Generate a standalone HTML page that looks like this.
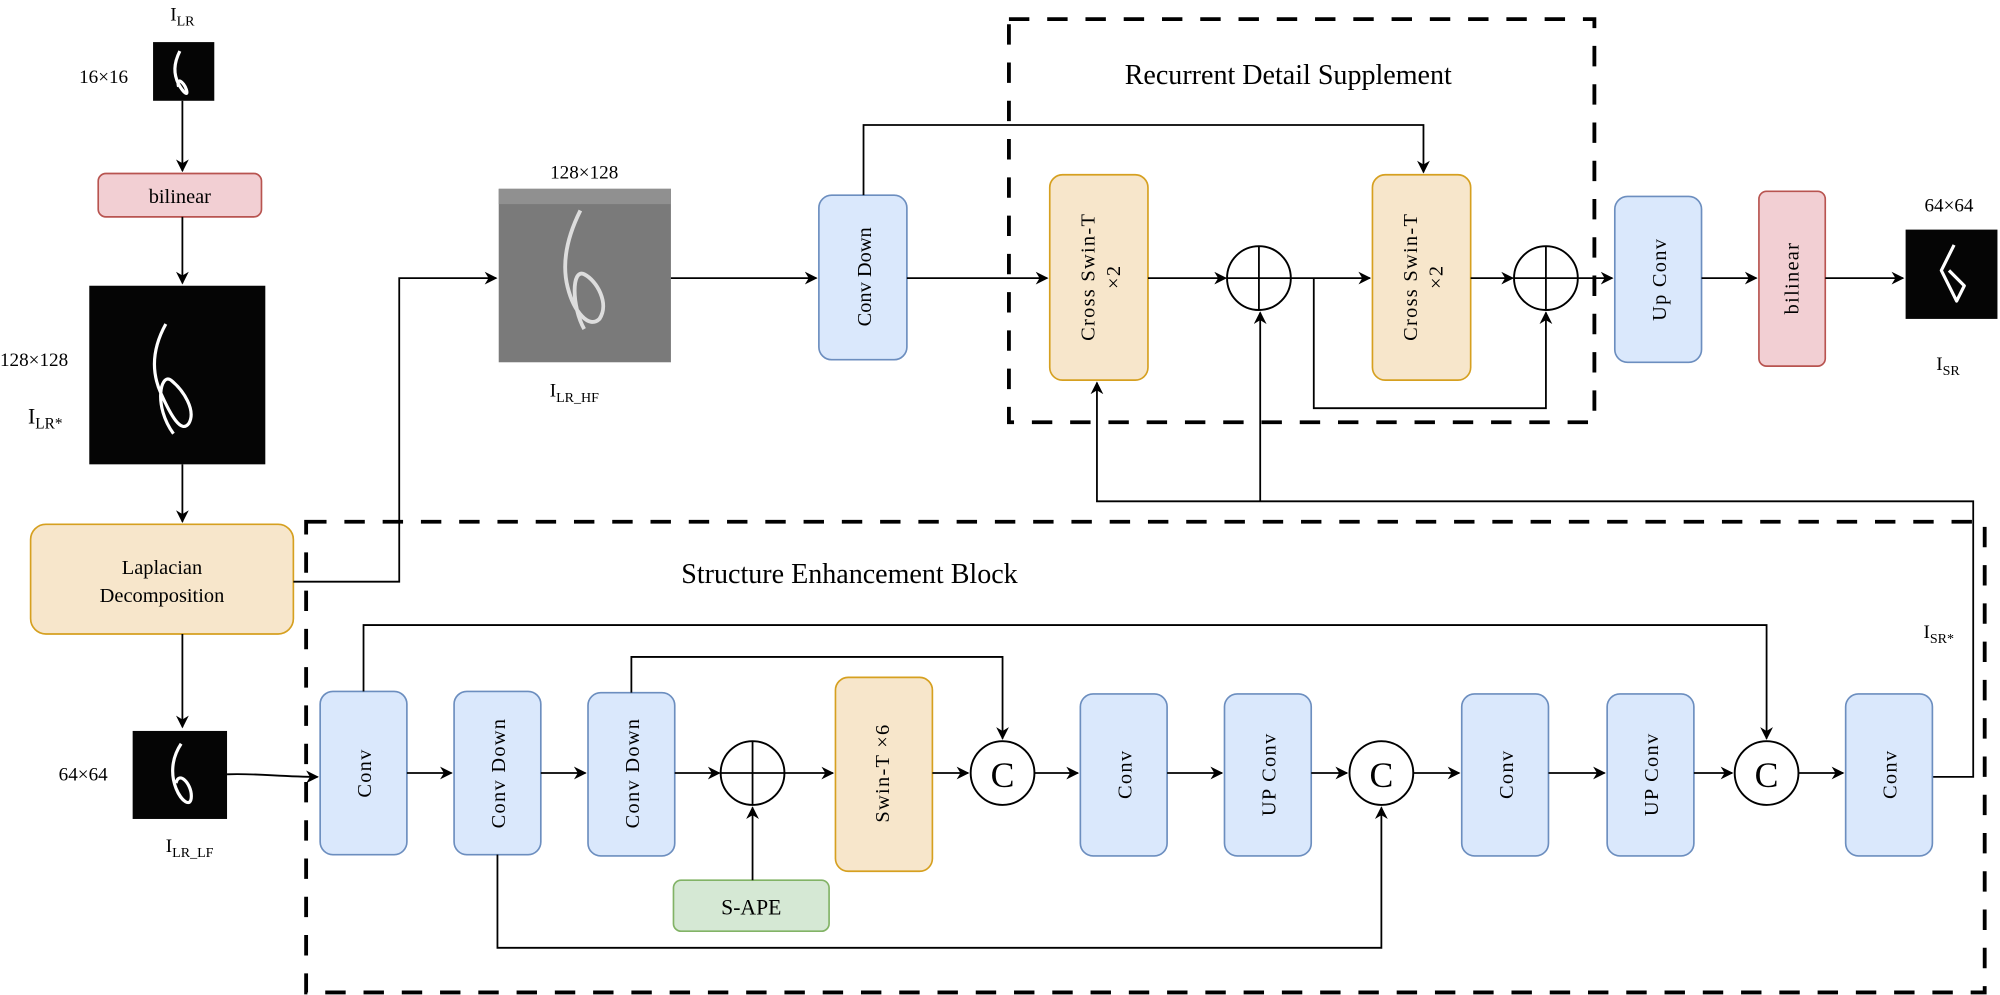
<!DOCTYPE html>
<html><head><meta charset="utf-8"><style>
html,body{margin:0;padding:0;background:#fff;width:2000px;height:995px;overflow:hidden}
svg{display:block}
text{font-family:"Liberation Serif",serif;fill:#000}
.b{fill:#dae8fc;stroke:#6c8ebf;stroke-width:1.3}
.o{fill:#f7e6cb;stroke:#d6a020;stroke-width:1.3}
.p{fill:#f2cfd3;stroke:#b85450;stroke-width:1.3}
.g{fill:#d5e8d4;stroke:#82b366;stroke-width:1.3}
.l{fill:none;stroke:#000;stroke-width:1.4}
.d{fill:none;stroke:#000;stroke-width:3;stroke-dasharray:16,14}
.c{fill:#fff;stroke:#000;stroke-width:1.5}
.w{fill:none;stroke:#fff;stroke-width:2.5;stroke-linejoin:round}
</style></head><body>
<svg width="2000" height="995" viewBox="0 0 1568 780" preserveAspectRatio="none">
<defs><marker id="a" markerWidth="10" markerHeight="10" refX="9" refY="5" orient="auto" markerUnits="userSpaceOnUse"><path d="M0,0 L10,5 L0,10 L3,5 z" fill="#000"/></marker></defs>

<!-- dashed boxes -->
<rect class="d" x="791" y="15" width="459" height="316"/>
<rect class="d" x="240" y="409" width="1316" height="369"/>
<text x="1010" y="66" font-size="22" text-anchor="middle">Recurrent Detail Supplement</text>
<text x="666" y="457" font-size="22" text-anchor="middle">Structure Enhancement Block</text>

<!-- left column -->
<text x="143" y="16" font-size="15" text-anchor="middle">I<tspan font-size="11" dy="4">LR</tspan></text>
<rect x="120" y="33" width="48" height="46" fill="#050505"/>
<path class="w" d="M141,40 C136,50 136,58 140,66 C144,73 148,76 146,70 C144,64 138,60 140,68" stroke-width="1.5"/>
<text x="62" y="65" font-size="15">16×16</text>
<path class="l" d="M143,79 V134" marker-end="url(#a)"/>
<rect class="p" x="77" y="136" width="128" height="34" rx="6"/>
<text x="141" y="159" font-size="16" text-anchor="middle">bilinear</text>
<path class="l" d="M143,170 V222" marker-end="url(#a)"/>
<rect x="70" y="224" width="138" height="140" fill="#050505"/>
<path class="w" d="M130,254 C120,272 118,290 126,308 C134,326 142,340 148,332 C154,322 144,306 134,298 C126,292 120,318 136,340" stroke-width="3"/>
<text x="0" y="287" font-size="15">128×128</text>
<text x="22" y="332" font-size="17" font-family="Liberation Sans">I<tspan font-size="12" dy="4">LR*</tspan></text>
<path class="l" d="M143,364 V409" marker-end="url(#a)"/>
<rect class="o" x="24" y="411" width="206" height="86" rx="12"/>
<text x="127" y="450" font-size="16" text-anchor="middle">Laplacian</text>
<text x="127" y="472" font-size="16" text-anchor="middle">Decomposition</text>
<path class="l" d="M230,456 H313 V218 H389" marker-end="url(#a)"/>
<path class="l" d="M143,497 V570" marker-end="url(#a)"/>
<rect x="104" y="573" width="74" height="69" fill="#050505"/>
<path class="w" d="M142,583 C134,595 134,608 138,618 C142,628 150,634 150,624 C150,614 140,604 138,614" stroke-width="2"/>
<text x="46" y="612" font-size="15">64×64</text>
<text x="130" y="668" font-size="15">I<tspan font-size="11" dy="4">LR_LF</tspan></text>

<!-- HF -->
<text x="458" y="140" font-size="15" text-anchor="middle">128×128</text>
<rect x="391" y="148" width="135" height="136" fill="#7a7a7a"/>
<rect x="391" y="148" width="135" height="12" fill="#909090"/>
<path d="M455,165 C445,185 440,205 445,225 C450,245 462,258 470,250 C478,238 468,220 458,215 C448,210 448,240 458,258" fill="none" stroke="#ddd" stroke-width="3"/>
<text x="431" y="311" font-size="15">I<tspan font-size="11" dy="4">LR_HF</tspan></text>
<path class="l" d="M526,218 H640" marker-end="url(#a)"/>
<rect class="b" x="642" y="153" width="69" height="129" rx="10"/>
<text transform="translate(683,217) rotate(-90)" font-size="16" text-anchor="middle">Conv Down</text>
<path class="l" d="M677,153 V98 H1116 V135" marker-end="url(#a)"/>
<path class="l" d="M711,218 H821" marker-end="url(#a)"/>

<!-- RDS -->
<rect class="o" x="823" y="137" width="77" height="161" rx="10"/>
<text transform="translate(862,217) rotate(-90)" font-size="16" text-anchor="middle" letter-spacing="1"><tspan x="0" dy="-4">Cross Swin-T</tspan><tspan x="0" dy="20">×2</tspan></text>
<path class="l" d="M900,218 H961" marker-end="url(#a)"/>
<circle class="c" cx="987" cy="218" r="25"/><path class="l" d="M962,218 H1012 M987,193 V243"/>
<path class="l" d="M1012,218 H1074" marker-end="url(#a)"/>
<rect class="o" x="1076" y="137" width="77" height="161" rx="10"/>
<text transform="translate(1115,217) rotate(-90)" font-size="16" text-anchor="middle" letter-spacing="1"><tspan x="0" dy="-4">Cross Swin-T</tspan><tspan x="0" dy="20">×2</tspan></text>
<path class="l" d="M1030,218 V320 H1212 V245" marker-end="url(#a)"/>
<path class="l" d="M1153,218 H1186" marker-end="url(#a)"/>
<circle class="c" cx="1212" cy="218" r="25"/><path class="l" d="M1187,218 H1237 M1212,193 V243"/>
<path class="l" d="M1237,218 H1264" marker-end="url(#a)"/>
<rect class="b" x="1266" y="154" width="68" height="130" rx="10"/>
<text transform="translate(1306,219) rotate(-90)" font-size="16" text-anchor="middle" letter-spacing="1">Up Conv</text>
<path class="l" d="M1334,218 H1377" marker-end="url(#a)"/>
<rect class="p" x="1379" y="150" width="52" height="137" rx="6"/>
<text transform="translate(1410,218) rotate(-90)" font-size="16" text-anchor="middle" letter-spacing="1">bilinear</text>
<path class="l" d="M1431,218 H1492" marker-end="url(#a)"/>
<text x="1528" y="166" font-size="15" text-anchor="middle">64×64</text>
<rect x="1494" y="180" width="72" height="70" fill="#050505"/>
<path class="w" d="M1532,192 L1522,212 L1534,236 L1540,224 L1528,212" stroke-width="2.5"/>
<text x="1518" y="290" font-size="15">I<tspan font-size="11" dy="4">SR</tspan></text>

<!-- feedback -->
<path class="l" d="M1515,609 H1547 V393 H860 V300" marker-end="url(#a)"/>
<path class="l" d="M988,393 V245" marker-end="url(#a)"/>
<text x="1508" y="500" font-size="15">I<tspan font-size="11" dy="4">SR*</tspan></text>

<!-- SEB -->
<path class="l" d="M178,607 C200,606 220,609 249,609" marker-end="url(#a)"/>
<rect class="b" x="251" y="542" width="68" height="128" rx="10"/>
<text transform="translate(291,606) rotate(-90)" font-size="16" text-anchor="middle" letter-spacing="1">Conv</text>
<path class="l" d="M319,606 H354" marker-end="url(#a)"/>
<rect class="b" x="356" y="542" width="68" height="128" rx="10"/>
<text transform="translate(396,606) rotate(-90)" font-size="16" text-anchor="middle" letter-spacing="1">Conv Down</text>
<path class="l" d="M424,606 H459" marker-end="url(#a)"/>
<rect class="b" x="461" y="543" width="68" height="128" rx="10"/>
<text transform="translate(501,606) rotate(-90)" font-size="16" text-anchor="middle" letter-spacing="1">Conv Down</text>
<path class="l" d="M529,606 H564" marker-end="url(#a)"/>
<circle class="c" cx="590" cy="606" r="25"/><path class="l" d="M565,606 H615 M590,581 V631"/>
<rect class="g" x="528" y="690" width="122" height="40" rx="6"/>
<text x="589" y="717" font-size="17" text-anchor="middle">S-APE</text>
<path class="l" d="M590,690 V633" marker-end="url(#a)"/>
<path class="l" d="M615,606 H653" marker-end="url(#a)"/>
<rect class="o" x="655" y="531" width="76" height="152" rx="10"/>
<text transform="translate(697,606) rotate(-90)" font-size="16" text-anchor="middle" letter-spacing="1">Swin-T ×6</text>
<path class="l" d="M731,606 H759" marker-end="url(#a)"/>
<circle class="c" cx="786" cy="606" r="25"/><text x="786" y="617" font-size="28" text-anchor="middle">C</text>
<path class="l" d="M811,606 H845" marker-end="url(#a)"/>
<rect class="b" x="847" y="544" width="68" height="127" rx="10"/>
<text transform="translate(887,607) rotate(-90)" font-size="16" text-anchor="middle" letter-spacing="1">Conv</text>
<path class="l" d="M915,606 H958" marker-end="url(#a)"/>
<rect class="b" x="960" y="544" width="68" height="127" rx="10"/>
<text transform="translate(1000,607) rotate(-90)" font-size="16" text-anchor="middle" letter-spacing="1">UP Conv</text>
<path class="l" d="M1028,606 H1056" marker-end="url(#a)"/>
<circle class="c" cx="1083" cy="606" r="25"/><text x="1083" y="617" font-size="28" text-anchor="middle">C</text>
<path class="l" d="M1108,606 H1144" marker-end="url(#a)"/>
<rect class="b" x="1146" y="544" width="68" height="127" rx="10"/>
<text transform="translate(1186,607) rotate(-90)" font-size="16" text-anchor="middle" letter-spacing="1">Conv</text>
<path class="l" d="M1214,606 H1258" marker-end="url(#a)"/>
<rect class="b" x="1260" y="544" width="68" height="127" rx="10"/>
<text transform="translate(1300,607) rotate(-90)" font-size="16" text-anchor="middle" letter-spacing="1">UP Conv</text>
<path class="l" d="M1328,606 H1358" marker-end="url(#a)"/>
<circle class="c" cx="1385" cy="606" r="25"/><text x="1385" y="617" font-size="28" text-anchor="middle">C</text>
<path class="l" d="M1410,606 H1445" marker-end="url(#a)"/>
<rect class="b" x="1447" y="544" width="68" height="127" rx="10"/>
<text transform="translate(1487,607) rotate(-90)" font-size="16" text-anchor="middle" letter-spacing="1">Conv</text>

<!-- skips -->
<path class="l" d="M285,542 V490 H1385 V579" marker-end="url(#a)"/>
<path class="l" d="M495,543 V515 H786 V579" marker-end="url(#a)"/>
<path class="l" d="M390,670 V743 H1083 V633" marker-end="url(#a)"/>
</svg>
</body></html>
